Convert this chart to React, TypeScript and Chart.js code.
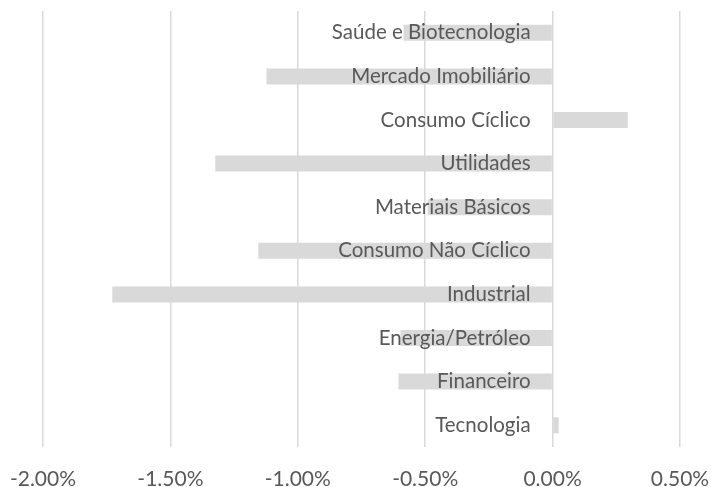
import React, { useEffect, useRef } from "react";
import { Chart, registerables } from "chart.js";

Chart.register(...registerables);

const categories = [
  "Saúde e Biotecnologia",
  "Mercado Imobiliário",
  "Consumo Cíclico",
  "Utilidades",
  "Materiais Básicos",
  "Consumo Não Cíclico",
  "Industrial",
  "Energia/Petróleo",
  "Financeiro",
  "Tecnologia",
];

const values = [-0.585, -1.123, 0.295, -1.324, -0.49, -1.155, -1.728, -0.597, -0.605, 0.024];

const xMin = -2.0;
const xMax = 0.5;
const xStep = 0.5;

const FONT = "Lato, 'Open Sans', sans-serif";
const TEXT = "#595959";
const GRID = "#d9d9d9";
const BAR = "#d9d9d9";

export default function App() {
  const ref = useRef<HTMLCanvasElement | null>(null);

  useEffect(() => {
    document.body.style.margin = "0";
    const canvas = ref.current;
    if (!canvas) return;
    const chart = new Chart(canvas, {
      type: "bar",
      data: {
        labels: categories,
        datasets: [
          {
            data: values,
            backgroundColor: BAR,
            borderWidth: 0,
            barPercentage: 0.367,
            categoryPercentage: 1,
          },
        ],
      },
      options: {
        indexAxis: "y",
        animation: false,
        responsive: false,
        maintainAspectRatio: false,
        layout: { padding: { left: 43, right: 31, top: 11, bottom: 0 } },
        plugins: { legend: { display: false }, tooltip: { enabled: false } },
        scales: {
          x: {
            type: "linear",
            min: xMin,
            max: xMax,
            grid: { color: GRID, lineWidth: 1.5, drawTicks: false },
            border: { display: false },
            ticks: {
              stepSize: xStep,
              padding: 23,
              maxRotation: 0,
              color: TEXT,
              font: { family: FONT, size: 21, lineHeight: 0.9 },
              callback: (v: any) => Number(v).toFixed(2) + "%",
            },
            afterFit: (scale: any) => {
              scale.height = 40;
              scale.paddingLeft = 0;
              scale.paddingRight = 0;
            },
          },
          y: {
            type: "category",
            position: { x: -0.0864 },
            grid: { display: false },
            border: { display: false },
            ticks: {
              z: 1,
              autoSkip: false,
              padding: 0,
              color: TEXT,
              font: { family: FONT, size: 20.5, lineHeight: 1 },
            },
          },
        },
      },
    });
    return () => chart.destroy();
  }, []);

  return <canvas ref={ref} width={711} height={487} style={{ display: "block" }} />;
}
